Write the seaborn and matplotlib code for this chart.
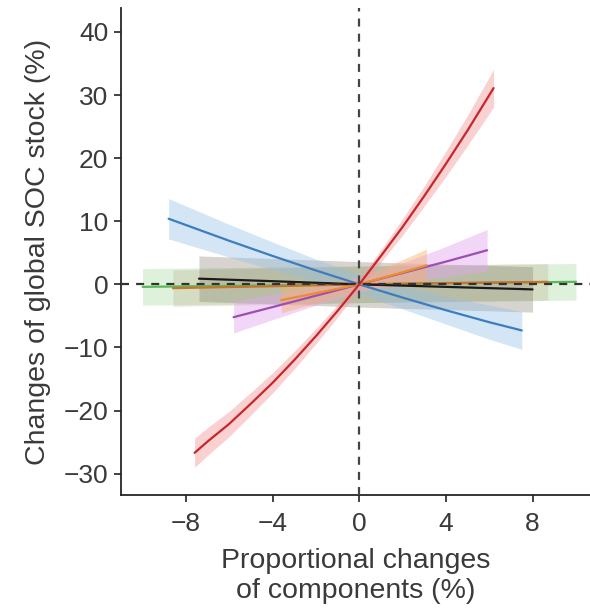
import numpy as np
import pandas as pd
import seaborn as sns
import matplotlib.pyplot as plt

# values (x = proportional change %, y = SOC stock change %)
red_x = [-7.6, -7, -6, -5, -4, -3, -2, -1, 0, 1, 2, 3, 4, 5, 6.2]
red_y = [-26.7, -24.9, -22.1, -18.9, -15.6, -12.0, -8.2, -4.2, 0, 4.5, 9.1, 14.0, 19.1, 24.4, 31.1]
red_err = [2.3, 2.2, 2.0, 1.8, 1.6, 1.4, 1.2, 1.0, 0.8, 1.0, 1.3, 1.6, 2.0, 2.4, 3.0]

blue_x = [-8.8, -6, -4, -2, 0, 2, 4, 6, 7.5]
blue_y = [10.4, 6.9, 4.5, 2.2, 0, -2.1, -4.1, -6.0, -7.3]
blue_err = [3.2, 2.6, 2.2, 1.8, 1.6, 1.8, 2.2, 2.7, 3.0]

purple_x = [-5.8, -4, -2, 0, 2, 4, 5.9]
purple_y = [-5.2, -3.6, -1.8, 0, 1.8, 3.6, 5.4]
purple_err = [2.5, 2.0, 1.5, 1.2, 1.6, 2.4, 3.3]

orange_x = [-3.6, -2, 0, 2, 3.1]
orange_y = [-2.5, -1.4, 0, 1.9, 3.0]
orange_err = [2.0, 1.6, 1.0, 2.0, 2.6]

brown_x = [-8.6, -4, 0, 4, 8.7]
brown_y = [-0.6, -0.3, 0, 0.2, 0.4]
brown_err = [2.9, 2.9, 2.9, 2.9, 2.9]

black_x = [-7.4, -4, 0, 4, 8.0]
black_y = [0.9, 0.5, 0, -0.4, -0.8]
black_err = [3.6, 3.6, 3.6, 3.6, 3.6]

green_x = [-10, -5, 0, 5, 10]
green_y = [-0.4, -0.2, 0, 0.2, 0.4]
green_err = [2.9, 2.9, 2.9, 2.9, 2.9]

series = [
    ('green', green_x, green_y, green_err, '#5cb85c', '#8fd18a', 0.30),
    ('brown', brown_x, brown_y, brown_err, '#c8742c', '#b59a70', 0.22),
    ('black', black_x, black_y, black_err, '#1a1a1a', '#8a8070', 0.34),
    ('blue', blue_x, blue_y, blue_err, '#3b7dbf', '#8fbfe8', 0.38),
    ('purple', purple_x, purple_y, purple_err, '#9b4fb5', '#e2a6f0', 0.45),
    ('orange', orange_x, orange_y, orange_err, '#f08a2a', '#f5b070', 0.45),
    ('red', red_x, red_y, red_err, '#c8262d', '#f39a9a', 0.45),
]

sns.set_style('ticks')
plt.rcParams['font.family'] = ['Liberation Sans', 'DejaVu Sans']
plt.rcParams['text.color'] = '#3a3a3a'
plt.rcParams['axes.labelcolor'] = '#3a3a3a'
plt.rcParams['xtick.color'] = '#222222'
plt.rcParams['ytick.color'] = '#222222'
plt.rcParams['xtick.labelcolor'] = '#3a3a3a'
plt.rcParams['ytick.labelcolor'] = '#3a3a3a'

fig = plt.figure(figsize=(5.9, 6.12), dpi=100)
ax = fig.add_axes([0.205, 0.191, 0.795, 0.796])

for name, x, y, err, lc, fc, a in series:
    x = np.array(x)
    y = np.array(y)
    err = np.array(err)
    ax.fill_between(x, y - err, y + err, color=fc, alpha=a, lw=0)

for name, x, y, err, lc, fc, a in series:
    df = pd.DataFrame({'x': x, 'y': y})
    sns.lineplot(data=df, x='x', y='y', color=lc, lw=1.6, ax=ax)

ax.axvline(0, color='#444444', lw=1.6, dashes=(3.6, 3.2), zorder=5)
ax.axhline(0, color='#333333', lw=1.6, dashes=(3.6, 3.2), zorder=5)

ax.set_xlim(-11, 10.65)
ax.set_ylim(-33.4, 43.8)
ax.set_xticks([-8, -4, 0, 4, 8])
ax.set_xticklabels(['\u22128', '\u22124', '0', '4', '8'])
ax.set_yticks(range(-30, 41, 10))
ax.set_yticklabels(['\u221230', '\u221220', '\u221210', '0', '10', '20', '30', '40'])
ax.tick_params(labelsize=19, length=5, width=1.2)
ax.tick_params(axis='x', pad=7)
ax.tick_params(axis='y', pad=4)
for s in ['top', 'right']:
    ax.spines[s].set_visible(False)
for s in ['left', 'bottom']:
    ax.spines[s].set_linewidth(1.3)
ax.set_xlabel('Proportional changes\nof components (%)', fontsize=20.5, labelpad=9,
              linespacing=1.2)
ax.set_ylabel('Changes of global SOC stock (%)', fontsize=20.5, labelpad=9)

plt.savefig('out.png', dpi=100)
